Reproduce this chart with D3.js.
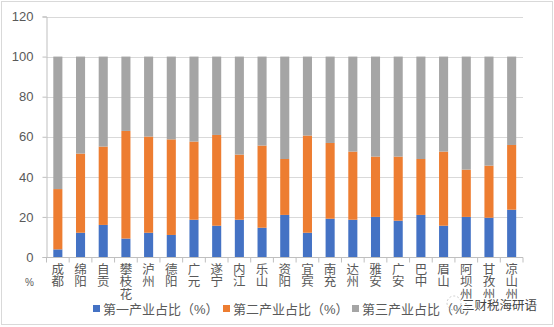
<!DOCTYPE html>
<html><head><meta charset="utf-8">
<script src="https://cdn.jsdelivr.net/npm/d3@7/dist/d3.min.js"></script>
<style>body{margin:0;background:#fff;}svg{display:block;font-family:"Liberation Sans","Noto Sans CJK SC",sans-serif;}</style>
</head><body><svg id="c" width="554" height="327"></svg>
<script>
const categories = ["成都","绵阳","自贡","攀枝花","泸州","德阳","广元","遂宁","内江","乐山","资阳","宜宾","南充","达州","雅安","广安","巴中","眉山","阿坝州","甘孜州","凉山州"];
const primary   = [3.8,12.1,16.0,9.2,12.1,11.0,18.6,15.6,18.6,14.6,21.0,12.1,19.1,18.6,20.0,18.1,21.0,15.6,20.0,19.6,23.6];
const secondary = [30.1,39.5,39.1,53.7,48.0,47.7,39.0,45.3,32.5,41.0,27.9,48.5,37.8,34.0,30.1,32.0,27.9,37.0,23.6,26.0,32.3];
const tertiary  = [66.1,48.4,44.9,37.1,39.9,41.3,42.4,39.1,48.9,44.4,51.1,39.4,43.1,47.4,49.9,49.9,51.1,47.4,56.4,54.4,44.1];
const seriesNames = ["第一产业占比（%）","第二产业占比（%）","第三产业占比（%）"];
const colors = ["#4472C4","#ED7D31","#A5A5A5"];
const yTicks = [0,20,40,60,80,100,120];

const svg = d3.select("#c");
svg.append("rect").attr("x",1.5).attr("y",1.5).attr("width",551).attr("height",323)
  .attr("fill","#fff").attr("stroke","#D9D9D9");

const m = {l:46.5, r:523, t:16.5, b:257};
const x = d3.scaleBand().domain(categories).range([m.l, m.r]).paddingInner(0.6).paddingOuter(0.3);
const y = d3.scaleLinear().domain([0,120]).range([m.b, m.t]);

// grid
svg.append("g").selectAll("line").data(yTicks.filter(d=>d>0)).join("line")
  .attr("x1",m.l).attr("x2",m.r).attr("y1",d=>Math.round(y(d))+0.5).attr("y2",d=>Math.round(y(d))+0.5)
  .attr("stroke","#D9D9D9");

const rows = categories.map((c,i)=>({cat:c, s0:primary[i], s1:secondary[i], s2:tertiary[i]}));
const stack = d3.stack().keys(["s0","s1","s2"])(rows);
svg.append("g").selectAll("g").data(stack).join("g").attr("fill",(d,i)=>colors[i])
  .selectAll("rect").data(d=>d).join("rect")
  .attr("x",d=>x(d.data.cat)).attr("width",x.bandwidth())
  .attr("y",d=>y(d[1])).attr("height",d=>y(d[0])-y(d[1]));

// y axis
const ya = svg.append("g").attr("transform",`translate(${m.l},0)`)
  .call(d3.axisLeft(y).tickValues(yTicks).tickSize(4).tickPadding(9));
ya.select(".domain").attr("stroke","#BFBFBF");
ya.selectAll(".tick line").attr("stroke","#BFBFBF");
ya.selectAll("text").attr("fill","#595959").style("font-size","13px").style("font-family","Liberation Sans");

// x axis
const xa = svg.append("g").attr("transform",`translate(0,${Math.round(m.b)+0.5})`);
xa.append("line").attr("x1",m.l).attr("x2",m.r).attr("stroke","#BFBFBF");
const bounds = d3.range(categories.length+1).map(i=>m.l+i*(m.r-m.l)/categories.length);
xa.selectAll("line.t").data(bounds).join("line").attr("class","t")
  .attr("x1",d=>d).attr("x2",d=>d).attr("y1",0).attr("y2",5).attr("stroke","#BFBFBF");
const lab = xa.selectAll("text").data(categories).join("text")
  .attr("fill","#595959").style("font-size","12.5px").attr("text-anchor","middle");
lab.each(function(c){
  const t=d3.select(this);
  Array.from(c).forEach((ch,j)=>{
    t.append("tspan").attr("x",x(c)+x.bandwidth()/2).attr("y",16+j*12.5).text(ch);
  });
});
svg.append("text").attr("x",25).attr("y",286).attr("fill","#595959").style("font-size","10px").text("%");

// legend
const legX = [93,223,352];
const lg = svg.append("g").selectAll("g").data(seriesNames).join("g")
  .attr("transform",(d,i)=>`translate(${legX[i]},309)`);
lg.append("rect").attr("x",0).attr("y",-4).attr("width",7).attr("height",7).attr("fill",(d,i)=>colors[i]);
lg.append("text").attr("x",10).attr("y",4.5).attr("fill","#595959").style("font-size","13px").text(d=>d);

// watermark
svg.append("circle").attr("cx",454).attr("cy",303).attr("r",7).attr("fill","none").attr("stroke","#ccc").attr("stroke-dasharray","2,2");
svg.append("text").attr("x",462).attr("y",310).style("font-size","12.5px").attr("fill","#444")
  .attr("stroke","#fff").attr("stroke-width",2.5).attr("paint-order","stroke").text("三财税海研语");
</script></body></html>
